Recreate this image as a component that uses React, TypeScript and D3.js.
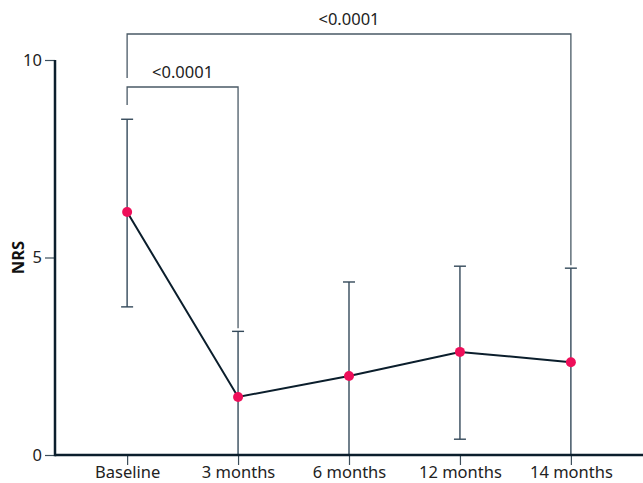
import * as d3 from 'd3';
import React, { useRef, useEffect } from 'react';

const categories = ['Baseline', '3 months', '6 months', '12 months', '14 months'];
const means = [6.15, 1.47, 2.0, 2.61, 2.35];
const upper = [8.5, 3.13, 4.38, 4.78, 4.73];
const lower = [3.75, 0, 0, 0.4, 0];
const yTicks = [0, 5, 10];
// significance brackets: [from index, to index, label]
const brackets: [number, number, string][] = [
  [0, 1, '<0.0001'],
  [0, 4, '<0.0001'],
];

const W = 643;
const H = 483;
const FONT = "'Noto Sans', 'Open Sans', sans-serif";
const FS = 16.5;

const App = () => {
  const ref = useRef<SVGSVGElement>(null);

  useEffect(() => {
    const svg = d3.select(ref.current);
    svg.selectAll('*').remove();

    const x = d3.scalePoint<string>()
      .domain(categories)
      .range([55, 643])
      .padding(0.65);
    const y = d3.scaleLinear().domain([0, 10]).range([455, 60]);

    // y axis
    const yAxis = svg.append('g')
      .attr('transform', 'translate(55,0)')
      .call(d3.axisLeft(y).tickValues(yTicks).tickSize(10).tickPadding(3).tickFormat(d3.format('d')));
    yAxis.select('.domain').remove();
    yAxis.selectAll('.tick line').attr('stroke', '#3d4f5c').attr('stroke-width', 1.2);
    yAxis.selectAll('.tick text')
      .attr('font-family', FONT).attr('font-size', FS).attr('fill', '#222');

    // x axis
    const xAxis = svg.append('g')
      .attr('transform', 'translate(0,455)')
      .call(d3.axisBottom(x).tickSize(10).tickPadding(1));
    xAxis.select('.domain').remove();
    xAxis.selectAll('.tick line').attr('stroke', '#3d4f5c').attr('stroke-width', 1.2);
    xAxis.selectAll('.tick text')
      .attr('font-family', FONT).attr('font-size', FS).attr('fill', '#222');

    // error bars
    const eb = svg.append('g').attr('stroke', '#34495a').attr('stroke-width', 1.4);
    categories.forEach((c, i) => {
      const cx = x(c)!;
      eb.append('line').attr('x1', cx).attr('x2', cx).attr('y1', y(upper[i])).attr('y2', y(lower[i]));
      eb.append('line').attr('x1', cx - 6).attr('x2', cx + 6).attr('y1', y(upper[i])).attr('y2', y(upper[i]));
      eb.append('line').attr('x1', cx - 6).attr('x2', cx + 6).attr('y1', y(lower[i])).attr('y2', y(lower[i]));
    });

    // axis lines
    svg.append('line').attr('x1', 55).attr('x2', 55).attr('y1', y(10)).attr('y2', y(0) + 1.2)
      .attr('stroke', '#0b1e2c').attr('stroke-width', 2.5);
    svg.append('line').attr('x1', 55).attr('x2', W).attr('y1', y(0)).attr('y2', y(0))
      .attr('stroke', '#0b1e2c').attr('stroke-width', 2.5);

    // mean line
    const line = d3.line<number>().x((d, i) => x(categories[i])!).y((d) => y(d));
    svg.append('path').datum(means).attr('d', line)
      .attr('fill', 'none').attr('stroke', '#0b1e2c').attr('stroke-width', 2);

    svg.selectAll('circle.pt').data(means).enter().append('circle')
      .attr('class', 'pt')
      .attr('cx', (d, i) => x(categories[i])!)
      .attr('cy', (d) => y(d))
      .attr('r', 5)
      .attr('fill', '#ee0f5a');

    // significance brackets
    const bY = [87, 34];
    const leftEnd = [105, 78];
    brackets.forEach(([a, b, label], k) => {
      const x1 = x(categories[a])!;
      const x2 = x(categories[b])!;
      const top = bY[k];
      const rightEnd = y(upper[b]) - 3;
      svg.append('path')
        .attr('d', `M${x1},${leftEnd[k]}V${top}H${x2}V${rightEnd}`)
        .attr('fill', 'none').attr('stroke', '#4a5a66').attr('stroke-width', 1.3);
      svg.append('text')
        .attr('x', (x1 + x2) / 2).attr('y', top - 9)
        .attr('text-anchor', 'middle')
        .attr('font-family', FONT).attr('font-size', FS).attr('fill', '#222')
        .text(label);
    });

    svg.append('text')
      .attr('transform', `translate(24,${y(5)}) rotate(-90)`)
      .attr('text-anchor', 'middle')
      .attr('font-family', FONT).attr('font-size', FS).attr('font-weight', 'bold').attr('fill', '#111')
      .text('NRS');
  }, []);

  return (
    <svg ref={ref} width={W} height={H} style={{ position: 'absolute', left: 0, top: 0 }} />
  );
};

export default App;
